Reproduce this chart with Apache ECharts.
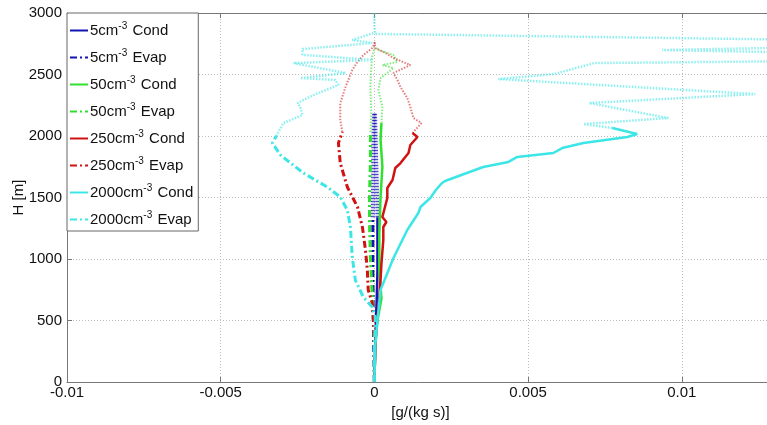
<!DOCTYPE html>
<html>
<head>
<meta charset="utf-8">
<script src="https://cdn.jsdelivr.net/npm/echarts@6/dist/echarts.min.js"></script>
<style>
  html, body { margin: 0; padding: 0; background: #fff; }
  #chart { width: 767px; height: 425px; }
</style>
</head>
<body>
<div id="chart"></div>
<script>
// heights [m] and rates [g/(kg s)]
const cond5H = [0, 300, 500, 700, 900, 1100, 1340];
const cond5X = [0, 0.00003, 0.00005, 0.00008, 0.0001, 0.0001, 0.0001];
const cond5TopH = [1340, 1600, 1900, 2187];
const cond5TopX = [0.0001, 0.00008, 0.00005, 0.00002];
const evap5H = [0, 300, 600, 900, 1200, 1340];
const evap5X = [0, -0.00002, -0.00004, -0.00005, -0.00005, -0.00005];
const evap5TopH = [1340, 1700, 2000, 2187];
const evap5TopX = [-0.00005, -0.00004, -0.00003, -0.00001];

const cond50H = [0, 300, 500, 680, 900, 1200, 1500, 1750, 1970, 2105];
const cond50X = [0, 0.00003, 0.0001, 0.00023, 0.00016, 0.00016, 0.0002, 0.00026, 0.0002, 0.00023];
const cond50TopH = [2105, 2236, 2374, 2471, 2520, 2553, 2577, 2602, 2658, 2699, 2724];
const cond50TopX = [0.00023, 0.00026, 0.00013, 0.0002, 0.00046, 0.00062, 0.00026, 0.00075, 0.00062, 0.00013, 0.00003];
const evap50H = [0, 300, 500, 700, 1000, 1300, 1500, 1800, 2033];
const evap50X = [0, 0, -0.00003, -0.00007, -0.00013, -0.00016, -0.00016, -0.00013, -0.00013];
const evap50TopH = [2033, 2200, 2400, 2550, 2650, 2720];
const evap50TopX = [-0.00013, -0.0001, -0.00013, -0.0001, -0.00007, 0];

const cond250H = [0, 300, 450, 600, 691, 829, 967, 1154, 1260, 1301, 1341, 1496, 1577, 1642, 1740, 1780, 1862, 1927, 1992, 2024];
const cond250X = [0, 0.00003, 0.00007, 0.00013, 0.00016, 0.0002, 0.00023, 0.00029, 0.00029, 0.00039, 0.00026, 0.00042, 0.00042, 0.00059, 0.00068, 0.00085, 0.00111, 0.00117, 0.0014, 0.00124];
const cond250TopH = [2024, 2105, 2146, 2236, 2309, 2398, 2455, 2512, 2577, 2634, 2675, 2715, 2764];
const cond250TopX = [0.00124, 0.00153, 0.00127, 0.00117, 0.00107, 0.00085, 0.00075, 0.00062, 0.00117, 0.00062, 0.00036, 0.00003, 0];
const evap250H = [0, 300, 500, 642, 748, 911, 1073, 1260, 1423, 1585, 1780, 1943, 2033];
const evap250X = [0, 0, -0.00003, -0.00007, -0.0002, -0.00023, -0.00029, -0.00039, -0.00055, -0.00088, -0.00111, -0.00117, -0.00104];
const evap250TopH = [2033, 2130, 2268, 2398, 2536, 2602, 2658, 2715, 2764];
const evap250TopX = [-0.00104, -0.00111, -0.00111, -0.00094, -0.00072, -0.00055, -0.00036, -0.00007, 0.00003];

const cond2000H = [0, 300, 500, 748, 1008, 1236, 1374, 1423, 1496, 1561, 1618, 1634, 1748, 1789, 1830, 1862, 1902, 1943, 1992, 2016, 2065];
const cond2000X = [0, 0.00003, 0.0001, 0.0002, 0.00062, 0.00107, 0.00143, 0.0015, 0.00182, 0.002, 0.0022, 0.0023, 0.00354, 0.00436, 0.00465, 0.00582, 0.00611, 0.0068, 0.00823, 0.00855, 0.00774];
const cond2000TopH = [2065, 2097, 2146, 2268, 2341, 2463, 2504, 2593, 2610, 2675, 2699, 2723, 2780, 2830, 2900, 3000];
const cond2000TopX = [0.00774, 0.0068, 0.00956, 0.00699, 0.01239, 0.00403, 0.00585, 0.00715, 0.0145, 0.0145, 0.00936, 0.0145, 0.0145, 0.00003, 0, 0];
const evap2000H = [0, 300, 528, 610, 691, 829, 1016, 1260, 1398, 1504, 1585, 1699, 1846, 1943, 2000];
const evap2000X = [0, 0, 0.00003, -0.00007, -0.00036, -0.00062, -0.00072, -0.00078, -0.00088, -0.00111, -0.00153, -0.00231, -0.00306, -0.00332, -0.00319];
const evap2000TopH = [2000, 2105, 2171, 2236, 2268, 2333, 2415, 2455, 2471, 2512, 2593, 2618, 2660, 2707, 2756, 2780, 2837];
const evap2000TopX = [-0.00319, -0.00296, -0.00234, -0.00241, -0.0025, -0.00198, -0.00117, -0.00127, -0.00241, -0.00094, -0.00263, -0.00007, -0.00234, -0.00234, -0.00007, -0.00072, -0.00003];

const colBlue = '#1414b4';
const colGreen = '#2fe02f';
const colRed = '#d01212';
const colCyan = '#3ce6e6';
const dashDot = [7, 3, 2, 3];
const dotted = [1.5, 1.5];

function pts(xs, hs) {
  return hs.map((h, i) => [xs[i], h]);
}

function mainLine(name, xs, hs, color, evap) {
  return {
    name: name,
    type: 'line',
    data: pts(xs, hs),
    symbol: 'none',
    clip: true,
    lineStyle: { color: color, width: evap ? 3 : 2.5, type: evap ? dashDot : 'solid' },
    itemStyle: { color: color }
  };
}

function topLine(name, xs, hs, color, width, opacity) {
  return {
    name: name,
    type: 'line',
    data: pts(xs, hs),
    symbol: 'none',
    clip: true,
    silent: true,
    lineStyle: { color: color, width: width, type: dotted, opacity: opacity }
  };
}

const legendNames = ['5cm-3 Cond', '5cm-3 Evap', '50cm-3 Cond', '50cm-3 Evap',
  '250cm-3 Cond', '250cm-3 Evap', '2000cm-3 Cond', '2000cm-3 Evap'];

const chart = echarts.init(document.getElementById('chart'));

const option = {
  backgroundColor: '#ffffff',
  animation: false,
  textStyle: { fontFamily: 'Liberation Sans, Arial, sans-serif' },
  grid: { left: 67, top: 13, width: 707, height: 369, outerBoundsMode: 'none', containLabel: false },
  legend: {
    data: legendNames,
    orient: 'vertical',
    left: 67,
    top: 13,
    padding: [8, 5, 2, 2],
    itemGap: 8,
    itemWidth: 18,
    itemHeight: 18,
    backgroundColor: '#ffffff',
    borderColor: '#666',
    borderWidth: 1,
    borderRadius: 0,
    selectedMode: false,
    itemStyle: { color: 'rgba(0,0,0,0)', borderColor: 'rgba(0,0,0,0)', borderWidth: 0 },
    formatter: name => name.replace('cm-3', 'cm{sup|-3}'),
    textStyle: {
      color: '#111',
      fontSize: 15,
      lineHeight: 18,
      padding: [0, 0, 0, -3],
      rich: {
        sup: { fontSize: 10, lineHeight: 10, padding: [0, 1, 9, 0], color: '#111' }
      }
    }
  },
  xAxis: [{
    type: 'value',
    position: 'bottom',
    min: -0.01,
    max: 0.013,
    interval: 0.005,
    name: '[g/(kg s)]',
    nameLocation: 'middle',
    nameGap: 23,
    nameMoveOverlap: false,
    nameTextStyle: { color: '#111', fontSize: 15 },
    axisLine: { show: true, onZero: false, lineStyle: { color: '#777' } },
    axisTick: { show: true, inside: true, length: 5, lineStyle: { color: '#777' } },
    axisLabel: {
      color: '#111', fontSize: 15, margin: 3, showMaxLabel: false,
      formatter: v => String(+v.toFixed(4))
    },
    splitLine: { show: true, lineStyle: { color: '#bdbdbd', type: [1, 2] } }
  }, {
    type: 'value',
    position: 'top',
    min: -0.01,
    max: 0.013,
    interval: 0.005,
    axisLine: { show: true, onZero: false, lineStyle: { color: '#777' } },
    axisTick: { show: true, inside: true, length: 5, lineStyle: { color: '#777' } },
    axisLabel: { show: false },
    splitLine: { show: false }
  }],
  yAxis: {
    type: 'value',
    min: 0,
    max: 3000,
    interval: 500,
    name: 'H [m]',
    nameLocation: 'middle',
    nameRotate: 90,
    nameGap: 41,
    nameMoveOverlap: false,
    nameTextStyle: { color: '#111', fontSize: 15 },
    axisLine: { show: true, onZero: false, lineStyle: { color: '#777' } },
    axisTick: { show: true, inside: true, length: 5, lineStyle: { color: '#777' } },
    axisLabel: { color: '#111', fontSize: 15, margin: 5, formatter: v => String(v) },
    splitLine: { show: true, lineStyle: { color: '#bdbdbd', type: [1, 2] } }
  },
  series: [
    topLine('5 cond top', cond5TopX, cond5TopH, colBlue, 4, 0.75),
    topLine('5 evap top', evap5TopX, evap5TopH, colBlue, 4, 0.75),
    topLine('50 cond top', cond50TopX, cond50TopH, colGreen, 2, 0.6),
    topLine('50 evap top', evap50TopX, evap50TopH, colGreen, 2, 0.6),
    topLine('250 cond top', cond250TopX, cond250TopH, colRed, 2, 0.55),
    topLine('250 evap top', evap250TopX, evap250TopH, colRed, 2, 0.55),
    topLine('2000 cond top', cond2000TopX, cond2000TopH, colCyan, 2.5, 0.6),
    topLine('2000 evap top', evap2000TopX, evap2000TopH, colCyan, 2.5, 0.6),
    mainLine(legendNames[0], cond5X, cond5H, colBlue, false),
    mainLine(legendNames[1], evap5X, evap5H, colBlue, true),
    mainLine(legendNames[2], cond50X, cond50H, colGreen, false),
    mainLine(legendNames[3], evap50X, evap50H, colGreen, true),
    mainLine(legendNames[4], cond250X, cond250H, colRed, false),
    mainLine(legendNames[5], evap250X, evap250H, colRed, true),
    mainLine(legendNames[6], cond2000X, cond2000H, colCyan, false),
    mainLine(legendNames[7], evap2000X, evap2000H, colCyan, true)
  ]
};

chart.setOption(option);
</script>
</body>
</html>
